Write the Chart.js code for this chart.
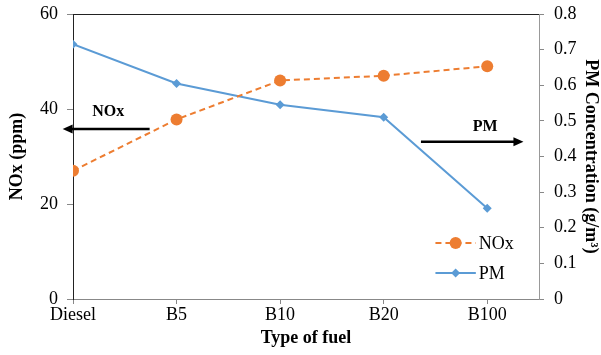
<!DOCTYPE html>
<html>
<head>
<meta charset="utf-8">
<script src="https://cdn.jsdelivr.net/npm/chart.js@4"></script>
<style>
  html, body { margin: 0; padding: 0; background: #fff; }
  #wrap { width: 601px; height: 355px; }
</style>
</head>
<body>
<div id="wrap"><canvas id="myChart" width="601" height="355"></canvas></div>
<script>
const fuels = ["Diesel", "B5", "B10", "B20", "B100"]
const noxPpm = [27, 37.8, 46, 47, 49]
const pmConc = [0.715, 0.605, 0.545, 0.51, 0.255]

const ORANGE = "#ED7D31"
const BLUE = "#5B9BD5"
const SERIF = "'Liberation Serif', 'Times New Roman', serif"

const toPoints = arr => arr.map((v, i) => ({ x: i, y: v }))

// fixed axis box sizes, no extra label overhang padding
const fitY = w => s => { s.width = w; s.paddingTop = 0; s.paddingBottom = 0 }
const fitX = h => s => { s.height = h; s.paddingLeft = 0; s.paddingRight = 0 }

// arrow with its label, placed in data units of the x and left y scales
const drawArrow = (ctx, chart, a) => {
    const xs = chart.scales.x, ys = chart.scales.y
    const x1 = xs.getPixelForValue(a.from), x2 = xs.getPixelForValue(a.to)
    const y = ys.getPixelForValue(a.y)
    const dir = Math.sign(x2 - x1)
    ctx.save()
    ctx.strokeStyle = "#000"
    ctx.fillStyle = "#000"
    ctx.lineWidth = 2.5
    ctx.beginPath()
    ctx.moveTo(x1, y)
    ctx.lineTo(x2 - dir * 8, y)
    ctx.stroke()
    ctx.beginPath()
    ctx.moveTo(x2, y)
    ctx.lineTo(x2 - dir * 10, y - 4.5)
    ctx.lineTo(x2 - dir * 10, y + 4.5)
    ctx.closePath()
    ctx.fill()
    ctx.font = "bold 16px " + SERIF
    ctx.textAlign = "center"
    ctx.textBaseline = "middle"
    ctx.fillText(a.text, xs.getPixelForValue(a.labelX), ys.getPixelForValue(a.labelY))
    ctx.restore()
}

const extras = {
    id: "extras",
    afterDraw(chart) {
        const { ctx, chartArea } = chart
        // top frame line
        ctx.save()
        ctx.strokeStyle = "#222"
        ctx.lineWidth = 1
        ctx.beginPath()
        ctx.moveTo(chartArea.left, chartArea.top + 0.5)
        ctx.lineTo(chartArea.right, chartArea.top + 0.5)
        ctx.stroke()
        ctx.restore()

        drawArrow(ctx, chart, { text: "NOx", from: 0.74, to: -0.1, y: 35.8, labelX: 0.34, labelY: 39.5 })
        drawArrow(ctx, chart, { text: "PM", from: 3.36, to: 4.35, y: 33.1, labelX: 3.98, labelY: 36.2 })

        // legend inside the plot, lower right
        const xs = chart.scales.x, ys = chart.scales.y
        const lx1 = xs.getPixelForValue(3.5), lx2 = xs.getPixelForValue(3.89)
        chart.data.datasets.forEach((ds, i) => {
            const y = ys.getPixelForValue(i === 0 ? 11.8 : 5.5)
            ctx.save()
            ctx.strokeStyle = ds.borderColor
            ctx.lineWidth = ds.borderWidth
            ctx.setLineDash(ds.borderDash || [])
            ctx.beginPath()
            ctx.moveTo(lx1, y)
            ctx.lineTo(lx2, y)
            ctx.stroke()
            ctx.setLineDash([])
            ctx.fillStyle = ds.pointBackgroundColor
            Chart.helpers.drawPoint(ctx, { pointStyle: ds.pointStyle, radius: ds.pointRadius, rotation: 0, borderWidth: 0 }, (lx1 + lx2) / 2, y)
            ctx.fillStyle = "#000"
            ctx.font = "18px " + SERIF
            ctx.textBaseline = "middle"
            ctx.fillText(ds.label, lx2 + 3, y + 1)
            ctx.restore()
        })
    }
}

const chart = new Chart("myChart", {
    type: "line",
    data: {
        datasets: [{
            label: "NOx",
            data: toPoints(noxPpm),
            yAxisID: "y",
            borderColor: ORANGE,
            backgroundColor: ORANGE,
            pointBackgroundColor: ORANGE,
            pointBorderWidth: 0,
            borderWidth: 2,
            borderDash: [6, 4],
            pointStyle: "circle",
            pointRadius: 6,
            tension: 0,
        }, {
            label: "PM",
            data: toPoints(pmConc),
            yAxisID: "y1",
            borderColor: BLUE,
            backgroundColor: BLUE,
            pointBackgroundColor: BLUE,
            pointBorderWidth: 0,
            borderWidth: 2,
            pointStyle: "rectRot",
            pointRadius: 4.5,
            tension: 0,
        }]
    },
    options: {
        responsive: false,
        animation: false,
        layout: { padding: { top: 14, left: 0, right: 0, bottom: 0 } },
        plugins: { legend: { display: false }, tooltip: { enabled: false } },
        scales: {
            x: {
                type: "linear",
                min: 0,
                max: 4.5,
                afterFit: fitX(56),
                ticks: {
                    stepSize: 1,
                    includeBounds: false,
                    autoSkip: false,
                    maxRotation: 0,
                    color: "#000",
                    padding: 0,
                    font: { family: SERIF, size: 18 },
                    callback: v => fuels[v] ?? "",
                },
                grid: { drawOnChartArea: false, drawTicks: true, tickLength: 5, color: "#888" },
                border: { color: "#888", width: 1 },
                title: {
                    display: true,
                    text: "Type of fuel",
                    color: "#000",
                    font: { family: SERIF, size: 18, weight: "bold" },
                    padding: { top: 4, bottom: 6 },
                },
            },
            y: {
                position: "left",
                min: 0,
                max: 60,
                afterFit: fitY(73),
                ticks: { stepSize: 20, color: "#000", padding: 9, font: { family: SERIF, size: 18 } },
                grid: { drawOnChartArea: false, drawTicks: true, tickLength: 6, color: "#888" },
                border: { color: "#222", width: 1 },
                title: {
                    display: true,
                    text: "NOx (ppm)",
                    color: "#000",
                    font: { family: SERIF, size: 18, weight: "bold" },
                    padding: { top: 7, bottom: 0 },
                },
            },
            y1: {
                position: "right",
                min: 0,
                max: 0.8,
                afterFit: fitY(62),
                ticks: { stepSize: 0.1, color: "#000", padding: 10, font: { family: SERIF, size: 18 },
                    callback: v => v === 0 ? "0" : v.toFixed(1) },
                grid: { drawOnChartArea: false, drawTicks: true, tickLength: 5, color: "#888" },
                border: { color: "#999", width: 1 },
                title: {
                    display: true,
                    text: "PM Concentration (g/m³)",
                    color: "#000",
                    font: { family: SERIF, size: 18, weight: "bold" },
                    padding: { top: 0, bottom: 0 },
                },
            },
        }
    },
    plugins: [extras]
})
</script>
</body>
</html>
